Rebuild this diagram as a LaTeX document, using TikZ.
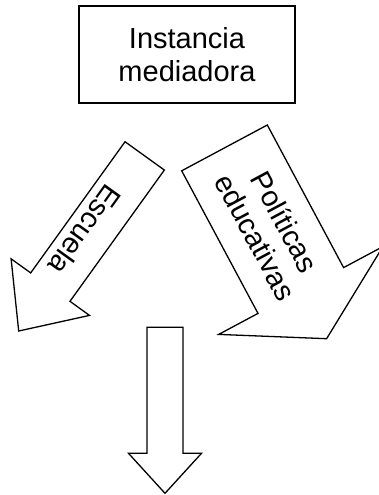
\documentclass[tikz,border=0pt]{standalone}
\usepackage{fontspec}
\setmainfont{Liberation Sans}
\begin{document}
\begin{tikzpicture}[x=1pt,y=-1pt,
  outline/.style={draw=black,line width=1.3pt,line join=miter,fill=white},
  lbl/.style={font=\fontsize{29}{33}\selectfont,align=center,inner sep=0pt}]
\useasboundingbox (0,0) rectangle (379,495);
% top box
\node[outline,line width=1.6pt,minimum width=216pt,minimum height=97pt,lbl,inner sep=0pt] (box) at (187,54.5) {Instancia\\mediadora};
% Escuela arrow
\draw[outline] (164.35,170.06) -- (69.98,301.3) -- (89.5,315.4) -- (18.7,331.0)
  -- (11.1,258.8) -- (30.68,272.9) -- (125.05,141.74) -- cycle;
\node[lbl,rotate=234.3] (esc) at (85.2,230.1) {Escuela};
% Politicas arrow
\draw[outline] (267.3,125.0) -- (343.6,267.6) -- (382.9,246.6) -- (326.6,338.7)
  -- (218.7,334.4) -- (258.0,313.4) -- (181.7,170.8) -- cycle;
\node[lbl,rotate=-61.8] (pol) at (270.5,229.4) {Políticas\\educativas};
% down arrow
\draw[outline] (147,327.3) -- (183,327.3) -- (183,453.3) -- (201.5,453.3)
  -- (165,493.3) -- (128.5,453.3) -- (147,453.3) -- cycle;
\end{tikzpicture}
\end{document}
